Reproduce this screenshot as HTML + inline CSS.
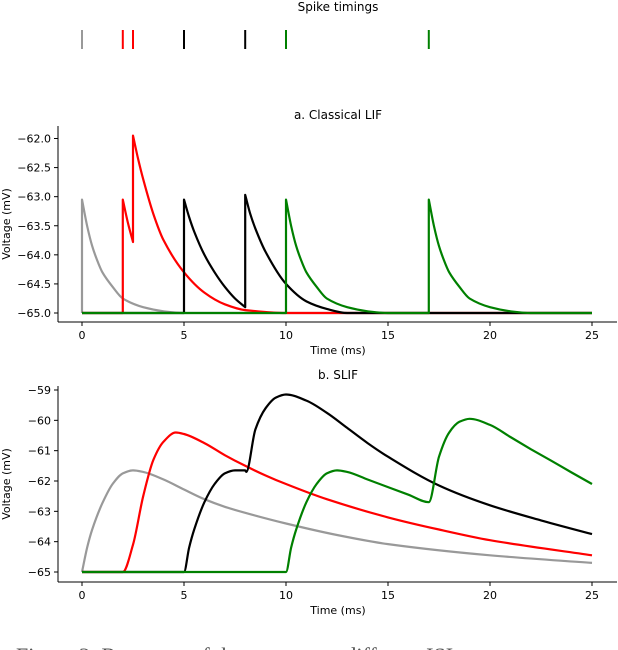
<!DOCTYPE html>
<html><head><meta charset="utf-8"><style>
html,body{margin:0;padding:0;background:#fff;width:618px;height:650px;overflow:hidden}
svg text{font-family:"DejaVu Sans","Liberation Sans",sans-serif;fill:#000}
</style></head><body>
<svg id="fig" width="618" height="650" viewBox="0 0 618 650" xmlns="http://www.w3.org/2000/svg">
<text x="338" y="11" font-size="12" text-anchor="middle">Spike timings</text>
<g id="raster"></g>
<text x="338" y="119" font-size="12" text-anchor="middle">a. Classical LIF</text>
<g id="pa"></g>
<text x="338" y="379" font-size="12" text-anchor="middle">b. SLIF</text>
<g id="pb"></g>
<text x="16" y="663" font-size="22" style="font-family:'Liberation Serif',serif;fill:#555">Figure 3: Response of the neurons to different ISIs</text>
</svg>
<script>
const colors = ["#999999","#ff0000","#000000","#008000"];
const spikeTimes = [[0],[2,2.5],[5,8],[10,17]];
const xTicks = [0,5,10,15,20,25];
const aTicks = [-62.0,-62.5,-63.0,-63.5,-64.0,-64.5,-65.0];
const bTicks = [-59,-60,-61,-62,-63,-64,-65];
// LIF series (time, voltage)
const lifGrayT=[0,0,0.25,0.5,0.75,1,1.5,2,3,4,5,25];
const lifGrayV=[-65,-63.05,-63.5,-63.85,-64.1,-64.3,-64.55,-64.75,-64.9,-64.97,-65,-65];
const lifRedT=[0,2,2,2.25,2.5,2.5,2.75,3,3.5,4,5,6,7,8,10,25];
const lifRedV=[-65,-65,-63.05,-63.45,-63.78,-61.95,-62.35,-62.7,-63.3,-63.75,-64.3,-64.65,-64.85,-64.95,-65,-65];
const lifBlackT=[0,5,5,5.25,5.5,6,6.5,7,7.5,8,8,8.25,8.5,9,10,11,12,13,25];
const lifBlackV=[-65,-65,-63.05,-63.35,-63.6,-64.0,-64.3,-64.55,-64.75,-64.9,-62.97,-63.3,-63.55,-63.95,-64.5,-64.8,-64.93,-65,-65];
const lifGreenT=[0,10,10,10.25,10.5,10.75,11,11.5,12,13,14,15,17,17,17.25,17.5,17.75,18,18.5,19,20,21,22,25];
const lifGreenV=[-65,-65,-63.05,-63.5,-63.85,-64.1,-64.3,-64.55,-64.75,-64.9,-64.97,-65,-65,-63.05,-63.5,-63.85,-64.1,-64.3,-64.55,-64.75,-64.9,-64.97,-65,-65];
// SLIF series
const slGrayT=[0,0.25,0.5,1,1.5,2,2.5,3,4,5,6,7,8,10,12.5,15,20,25];
const slGrayV=[-65,-64.2,-63.6,-62.73,-62.1,-61.75,-61.65,-61.7,-61.95,-62.28,-62.6,-62.85,-63.05,-63.4,-63.78,-64.08,-64.45,-64.7];
const slRedT=[0,2,2.5,3,3.5,4,4.6,5,6,7,8,9,10,12,15,17.5,20,25];
const slRedV=[-65,-65,-64.1,-62.5,-61.3,-60.7,-60.4,-60.45,-60.75,-61.15,-61.5,-61.82,-62.1,-62.6,-63.2,-63.6,-63.95,-64.45];
const slBlackT=[0,5,5.25,5.5,6,6.5,7,7.5,8,8.05,8.5,9,9.5,10,11,12,13,14,15,17.5,20,22.5,25];
const slBlackV=[-65,-65,-64.2,-63.6,-62.7,-62.1,-61.75,-61.65,-61.65,-61.7,-60.3,-59.6,-59.25,-59.15,-59.35,-59.75,-60.25,-60.75,-61.2,-62.15,-62.8,-63.3,-63.75];
const slGreenT=[0,10,10.25,10.5,11,11.5,12,12.5,13,14,15,16,17,17.5,18,18.5,19,20,21,22,23,24,25];
const slGreenV=[-65,-65,-64.2,-63.6,-62.7,-62.1,-61.75,-61.65,-61.7,-61.95,-62.2,-62.45,-62.7,-61.2,-60.4,-60.05,-59.95,-60.15,-60.55,-60.95,-61.33,-61.72,-62.1];

const NS="http://www.w3.org/2000/svg";
function mk(tag,attrs,parent){const e=document.createElementNS(NS,tag);for(const k in attrs)e.setAttribute(k,attrs[k]);parent.appendChild(e);return e;}
const x=t=>82+t*20.4;

const rg=document.getElementById('raster');
spikeTimes.forEach((ts,i)=>ts.forEach(t=>{
  const l=mk('line',{x1:x(t),x2:x(t),y1:30,y2:49,stroke:colors[i],'stroke-width':2},rg);
  
  
}));

function monoPath(P){
  const n=P.length;
  if(n<2) return '';
  if(n===2) return ` L${P[1][0].toFixed(1)},${P[1][1].toFixed(1)}`;
  let d='';
  const dx=[],m=[];
  for(let i=0;i<n-1;i++){dx.push(P[i+1][0]-P[i][0]);m.push((P[i+1][1]-P[i][1])/dx[i]);}
  const tg=[m[0]];
  for(let i=1;i<n-1;i++){tg.push(m[i-1]*m[i]<=0?0:(2*m[i-1]*m[i])/(m[i-1]+m[i]));}
  tg.push(m[n-2]);
  for(let i=0;i<n-1;i++){
    const h=dx[i]/3;
    d+=` C${(P[i][0]+h).toFixed(1)},${(P[i][1]+h*tg[i]).toFixed(1)} ${(P[i+1][0]-h).toFixed(1)},${(P[i+1][1]-h*tg[i+1]).toFixed(1)} ${P[i+1][0].toFixed(1)},${P[i+1][1].toFixed(1)}`;
  }
  return d;
}
function buildPath(P){
  let d=`M${P[0][0].toFixed(1)},${P[0][1].toFixed(1)}`;
  let run=[P[0]];
  for(let i=1;i<P.length;i++){
    if(Math.abs(P[i][0]-run[run.length-1][0])<0.01){
      d+=monoPath(run);
      d+=` L${P[i][0].toFixed(1)},${P[i][1].toFixed(1)}`;
      run=[P[i]];
    } else run.push(P[i]);
  }
  d+=monoPath(run);
  return d;
}

function panel(g,ticks,yTop,yBot,vTop,vBot,axTop,axBot,fmt,series){
  const y=v=>yTop+(vTop-v)*(yBot-yTop)/(vTop-vBot);
  const ax=mk('g',{},g);
  
  
  mk('line',{x1:58,x2:58,y1:axTop,y2:axBot,stroke:'#000','stroke-width':1},ax);
  mk('line',{x1:58,x2:617,y1:axBot,y2:axBot,stroke:'#000','stroke-width':1},ax);
  ticks.forEach(v=>{
    mk('line',{x1:54,x2:58,y1:y(v),y2:y(v),stroke:'#000'},ax);
    const t=mk('text',{x:51,y:y(v)+4,'font-size':11,'text-anchor':'end'},ax);
    t.textContent='\u2212'+Math.abs(v).toFixed(fmt);
    
    
  });
  xTicks.forEach(v=>{
    mk('line',{x1:x(v),x2:x(v),y1:axBot,y2:axBot+4,stroke:'#000'},ax);
    const t=mk('text',{x:x(v),y:axBot+17,'font-size':11,'text-anchor':'middle'},ax);
    t.textContent=v;
    
    
  });
  const xl=mk('text',{x:338,y:axBot+32,'font-size':11,'text-anchor':'middle'},ax);
  xl.textContent='Time (ms)';
  
  
  const cy=(axTop+axBot)/2;
  const yl=mk('text',{x:10,y:cy,'font-size':11,'text-anchor':'middle',transform:`rotate(-90 10 ${cy})`},ax);
  yl.textContent='Voltage (mV)';
  
  
  series.forEach((s,i)=>{
    const P=s[0].map((t,j)=>[x(t),y(s[1][j])]);
    const p=mk('path',{d:buildPath(P),fill:'none',stroke:colors[i],'stroke-width':2.2,'stroke-linejoin':'round'},g);
    
    
  });
}
panel(document.getElementById('pa'),aTicks,138.5,313,-62,-65,126,322,1,
  [[lifGrayT,lifGrayV],[lifRedT,lifRedV],[lifBlackT,lifBlackV],[lifGreenT,lifGreenV]]);
panel(document.getElementById('pb'),bTicks,390,572,-59,-65,386,582,0,
  [[slGrayT,slGrayV],[slRedT,slRedV],[slBlackT,slBlackV],[slGreenT,slGreenV]]);
</script>
</body></html>
